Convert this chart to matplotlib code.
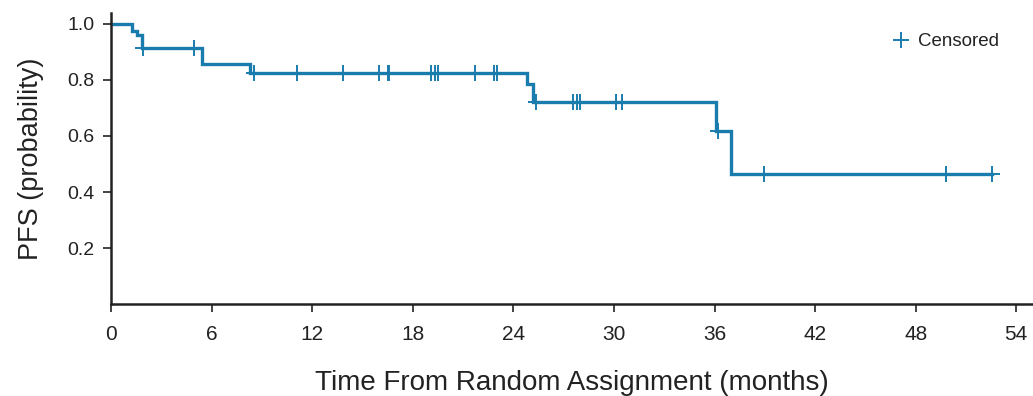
import numpy as np
import matplotlib
matplotlib.use("Agg")
import matplotlib.pyplot as plt
from matplotlib.lines import Line2D

plt.rcParams['font.family'] = ['Liberation Sans', 'DejaVu Sans']

# Kaplan-Meier step data (months, survival probability)
event_times = [0.0, 1.27, 1.53, 1.83, 5.42, 8.30, 24.79, 25.20, 36.08, 36.98]
survival = [1.0, 0.976, 0.960, 0.915, 0.857, 0.826, 0.786, 0.723, 0.619, 0.464]
censor_times = [1.89, 4.92, 8.50, 11.09, 13.84, 15.97, 16.51, 16.59, 19.07, 19.35,
                19.49, 21.74, 22.84, 23.00, 25.37, 27.58, 27.78, 27.98, 30.11,
                30.51, 36.18, 38.95, 49.82, 52.55]
x_ticks = [0, 6, 12, 18, 24, 30, 36, 42, 48, 54]
y_ticks = [0.2, 0.4, 0.6, 0.8, 1.0]
y_tick_labels = ['0.2', '0.4', '0.6', '0.8', '1.0']

color = '#1a7cad'
axis_color = '#222222'

fig = plt.figure(figsize=(10.33, 3.96), dpi=100)
ax = fig.add_axes([0.1075, 0.2323, 0.8925, 0.7354])

t_end = max(censor_times)
xs = list(event_times) + [t_end]
ys = list(survival) + [survival[-1]]
ax.step(xs, ys, where='post', color=color, lw=2.4, solid_joinstyle='miter')

idx = np.searchsorted(np.array(event_times), np.array(censor_times), side='right') - 1
cens_y = np.array(survival)[idx]
ax.plot(censor_times, cens_y, ls='none', marker='+', ms=11, mew=1.4, color=color)

ax.set_xlim(0, 55)
ax.set_ylim(0, 1.04)
ax.set_xticks(x_ticks)
ax.set_xticklabels([str(v) for v in x_ticks])
ax.set_yticks(y_ticks)
ax.set_yticklabels(y_tick_labels)

for s in ['top', 'right']:
    ax.spines[s].set_visible(False)
for s in ['left', 'bottom']:
    ax.spines[s].set_linewidth(1.8)
    ax.spines[s].set_color(axis_color)

ax.tick_params(axis='both', direction='out', length=6, width=1.2, color=axis_color,
               labelcolor='#222222', pad=6)
ax.tick_params(axis='y', labelsize=14)
ax.tick_params(axis='x', labelsize=15, pad=9)

ax.set_xlabel('Time From Random Assignment (months)', fontsize=20, color='#222222', labelpad=19)
ax.set_ylabel('PFS (probability)', fontsize=19.5, color='#222222', labelpad=17)

handle = Line2D([], [], ls='none', marker='+', ms=11, mew=1.4, color=color)
leg = ax.legend([handle], ['Censored'], loc='upper right', bbox_to_anchor=(0.977, 0.975),
                frameon=False, fontsize=13.5, handlelength=0.8, handletextpad=0.5,
                borderaxespad=0.3)
for t in leg.get_texts():
    t.set_color('#222222')

fig.savefig('out.png', dpi=100)
